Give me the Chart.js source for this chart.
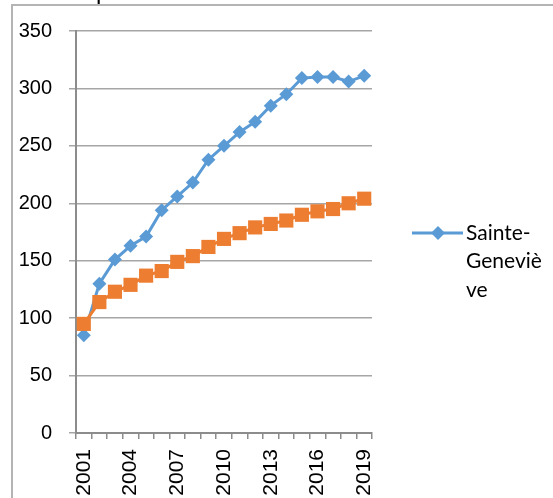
<!DOCTYPE html>
<html>
<head>
<meta charset="utf-8">
<script src="https://cdn.jsdelivr.net/npm/chart.js@4/dist/chart.umd.min.js"></script>
<style>
  html, body { margin: 0; padding: 0; background: #fff; }
  #wrap { width: 553px; height: 498px; }
</style>
</head>
<body>
<div id="wrap"><canvas id="c" width="553" height="498"></canvas></div>
<script>
const years = ['2001','2002','2003','2004','2005','2006','2007','2008','2009','2010',
               '2011','2012','2013','2014','2015','2016','2017','2018','2019'];
const sainteGenevieve = [85,130,151,163,171,194,206,218,238,250,262,271,285,295,309,310,310,306,311];
const secondSeries    = [95,114,123,129,137,141,149,154,162,169,174,179,182,185,190,193,195,200,204];
const yTicks = [0,50,100,150,200,250,300,350];

const BLUE = '#5b9bd5';
const ORANGE = '#ed7d31';

// frame, cut-off title and the wrapped legend
const decor = {
  id: 'decor',
  afterDraw(chart) {
    const ctx = chart.ctx;
    ctx.save();
    ctx.strokeStyle = '#b4b4b4';
    ctx.lineWidth = 2;
    ctx.beginPath();
    ctx.moveTo(12, 498);
    ctx.lineTo(12, 5);
    ctx.lineTo(553, 5);
    ctx.stroke();

    ctx.fillStyle = '#000';
    ctx.font = '24px "Liberation Sans"';
    ctx.textBaseline = 'alphabetic';
    ctx.fillText('p', 96, -1);

    // legend (first dataset only)
    const ds = chart.data.datasets[0];
    const ly = 233;
    ctx.strokeStyle = ds.borderColor;
    ctx.lineWidth = 3;
    ctx.beginPath();
    ctx.moveTo(412, ly);
    ctx.lineTo(463, ly);
    ctx.stroke();
    ctx.fillStyle = ds.backgroundColor;
    ctx.beginPath();
    ctx.moveTo(438 - 7, ly); ctx.lineTo(438, ly - 7);
    ctx.lineTo(438 + 7, ly); ctx.lineTo(438, ly + 7);
    ctx.closePath();
    ctx.fill();

    ctx.font = '21px Lato';
    ctx.fillStyle = '#000';
    ctx.textBaseline = 'middle';
    const maxW = 80;
    const lines = [];
    ds.label.split(/(?<=-)/).forEach(part => {
      let cur = '';
      for (const ch of part) {
        if (ctx.measureText(cur + ch).width > maxW && cur) { lines.push(cur); cur = ch; }
        else cur += ch;
      }
      lines.push(cur);
    });
    lines.forEach((t, i) => ctx.fillText(t, 466, ly + i * 28.5));
    ctx.restore();
  }
};

new Chart(document.getElementById('c'), {
  type: 'line',
  data: {
    labels: years,
    datasets: [{
      label: 'Sainte-Geneviève',
      data: sainteGenevieve,
      borderColor: BLUE,
      backgroundColor: BLUE,
      borderWidth: 3,
      pointStyle: 'rectRot',
      pointRadius: 7,
      pointBorderWidth: 0,
      tension: 0,
      order: 1
    }, {
      label: '',
      data: secondSeries,
      borderColor: ORANGE,
      backgroundColor: ORANGE,
      borderWidth: 3,
      pointStyle: 'rect',
      pointRadius: 10,
      pointBorderWidth: 0,
      tension: 0,
      order: 0
    }]
  },
  options: {
    responsive: false,
    animation: false,
    layout: { padding: { left: 0, top: 31, right: 181, bottom: 0 } },
    plugins: { legend: { display: false }, tooltip: { enabled: false } },
    scales: {
      x: {
        offset: true,
        grid: { offset: true, drawOnChartArea: false, drawTicks: true, tickLength: 6, color: '#8c8c8c', lineWidth: 1.5 },
        border: { color: '#8c8c8c', width: 2 },
        ticks: {
          autoSkip: false,
          maxRotation: 90,
          minRotation: 90,
          padding: 10,
          color: '#000',
          font: { family: '"Liberation Sans"', size: 21 },
          callback: (v, i) => (i % 3 === 0 ? years[i] : '')
        },
        afterFit: s => { s.height = 65; }
      },
      y: {
        min: 0,
        max: 350,
        afterBuildTicks: s => { s.ticks = yTicks.map(v => ({ value: v })); },
        grid: { color: '#a6a6a6', lineWidth: 1.5, tickLength: 7 },
        border: { color: '#8c8c8c', width: 2 },
        ticks: {
          padding: 17,
          color: '#000',
          font: { family: '"Liberation Sans"', size: 20 }
        },
        afterFit: s => { s.width = 76; }
      }
    }
  },
  plugins: [decor]
});
</script>
</body>
</html>
